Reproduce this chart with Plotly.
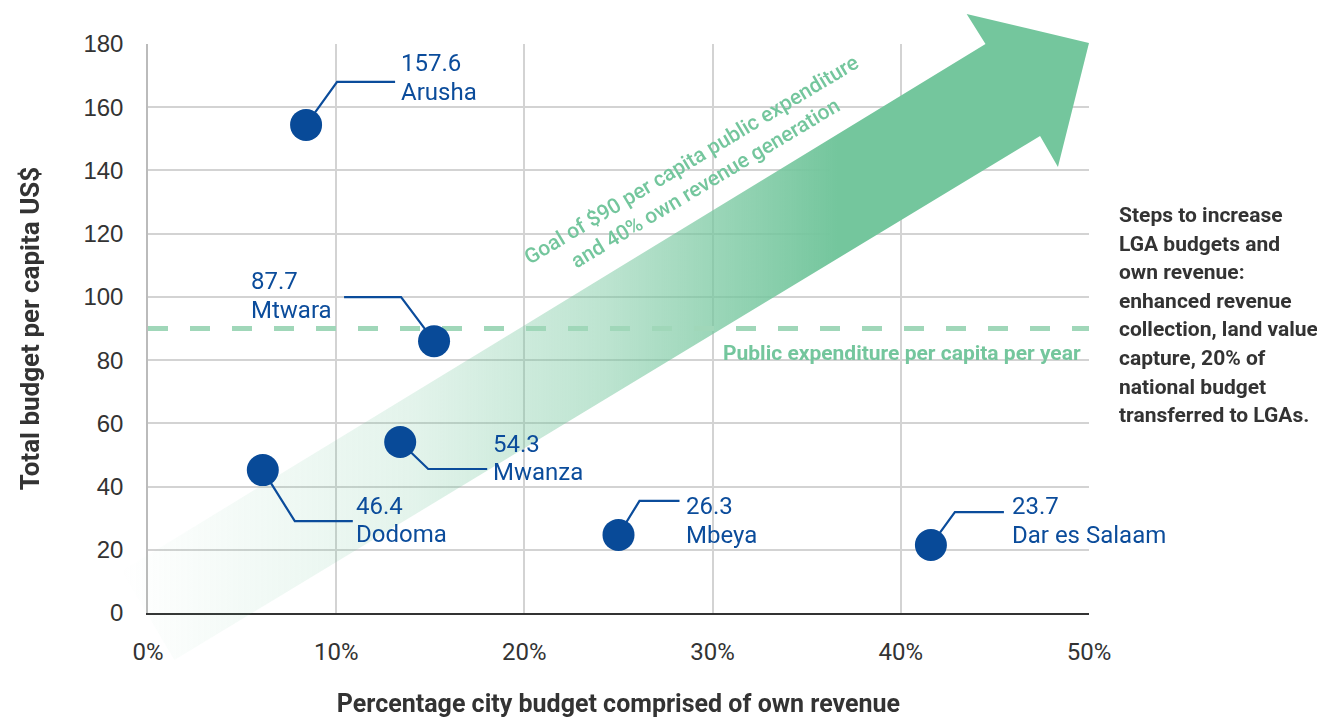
import plotly.graph_objects as go

# data
cities = ['Arusha', 'Mtwara', 'Mwanza', 'Dodoma', 'Mbeya', 'Dar es Salaam']
own_revenue_pct = [8.4, 15.2, 13.4, 6.1, 25.0, 41.6]
budget_per_capita = [154.4, 86.0, 54.1, 45.2, 24.7, 21.5]
budget_labels = ['157.6', '87.7', '54.3', '46.4', '26.3', '23.7']

x_ticks = [0, 10, 20, 30, 40, 50]
y_ticks = [0, 20, 40, 60, 80, 100, 120, 140, 160, 180]
target_budget = 90

steps_lines = ['Steps to increase', 'LGA budgets and', 'own revenue:', 'enhanced revenue',
               'collection, land value', 'capture, 20% of', 'national budget',
               'transferred to LGAs.']

# arrow outline (x in %, y in US$), goes a bit outside the plot
arrow_x = [-1.4, 44.5, 43.5, 50.0, 48.35, 47.4, 1.4, -1.4]
arrow_y = [13.3, 180.0, 189.5, 180.3, 141.1, 150.9, -14.9, 13.3]

# label placement in pixels: elbow dx, dy, line end dx, text dx, value dy, name dy
offsets = {
    'Arusha': (31, -43, 89, 93, -62, -33),
    'Mtwara': (-33, -44, -90, -185, -60, -31),
    'Mwanza': (28, 27, 87, 91, 2, 30),
    'Dodoma': (32, 51, 90, 91, 36, 64),
    'Mbeya': (21, -34, 61, 65, -29, 0),
    'Dar es Salaam': (24, -33, 73, 79, -39, -10),
}

W, H = 1325, 722
OFF = 8  # page body margin
left, right, top, bottom = 148 - OFF, 1089 - OFF, 44 - OFF, 613 - OFF
px_x = (right - left) / 50.0
px_y = (bottom - top) / 180.0

BLUE = '#0B4C9B'
GREEN = 'rgb(116,198,157)'
FONT = 'Roboto, Arial, sans-serif'

fig = go.Figure()

# invisible trace so the main axes get drawn
fig.add_trace(go.Scatter(x=[0, 50], y=[0, 180], mode='markers', opacity=0,
                         hoverinfo='skip', showlegend=False))

# arrow on a full-size hidden axis so it is not clipped
fig.add_trace(go.Scatter(
    x=arrow_x, y=arrow_y, xaxis='x2', yaxis='y2', mode='lines',
    line=dict(width=0), fill='toself', hoverinfo='skip', showlegend=False,
    fillgradient=dict(type='horizontal', colorscale=[
        [0.0, 'rgba(116,198,157,0)'],
        [0.3, 'rgba(116,198,157,0.2)'],
        [0.5, 'rgba(116,198,157,0.48)'],
        [0.65, 'rgba(116,198,157,0.8)'],
        [0.74, 'rgba(116,198,157,1)'],
        [1.0, 'rgba(116,198,157,1)'],
    ]),
))

# dashed target line
fig.add_trace(go.Scatter(
    x=[0, 50], y=[target_budget, target_budget], xaxis='x3', yaxis='y3',
    mode='lines', line=dict(color='rgb(160,215,185)', width=5, dash='20px,22px'),
    hoverinfo='skip', showlegend=False,
))

# connectors
for c, xv, yv in zip(cities, own_revenue_pct, budget_per_capita):
    ex, ey, endx, _, _, _ = offsets[c]
    fig.add_trace(go.Scatter(
        x=[xv, xv + ex / px_x, xv + endx / px_x],
        y=[yv, yv - ey / px_y, yv - ey / px_y],
        xaxis='x3', yaxis='y3', mode='lines',
        line=dict(color=BLUE, width=2.2), hoverinfo='skip', showlegend=False,
    ))

fig.add_trace(go.Scatter(
    x=own_revenue_pct, y=budget_per_capita, xaxis='x3', yaxis='y3',
    mode='markers', marker=dict(size=32, color='#084A98'),
    text=cities, hovertemplate='%{text}<br>%{x}%<br>%{y}<extra></extra>',
    showlegend=False,
))

annotations = []
for c, lab, xv, yv in zip(cities, budget_labels, own_revenue_pct, budget_per_capita):
    _, _, _, tx, vdy, ndy = offsets[c]
    for txt, dy in [(lab, vdy), (c, ndy)]:
        annotations.append(dict(
            x=xv, y=yv, xref='x3', yref='y3', text=txt, showarrow=False,
            xanchor='left', yanchor='middle', xshift=tx, yshift=-dy,
            font=dict(family=FONT, size=24, color=BLUE),
        ))

annotations.append(dict(
    x=50, y=target_budget, xref='x3', yref='y3', showarrow=False,
    text='Public expenditure per capita per year', xanchor='right', yanchor='middle',
    xshift=-6, yshift=-24, font=dict(family=FONT, size=21, color=GREEN, weight='bold'),
))

annotations.append(dict(
    x=(698 - OFF - left) / px_x, y=(bottom - (172 - OFF)) / px_y, xref='x3', yref='y3',
    showarrow=False,
    text='Goal of $90 per capita public expenditure<br>and 40% own revenue generation',
    textangle=-31, font=dict(family=FONT, size=21, color=GREEN, weight=500),
))

for i, line in enumerate(steps_lines):
    annotations.append(dict(
        x=(1117 - OFF) / W, y=1 - (215 - OFF + i * 28.6) / H, xref='paper', yref='paper',
        text=line, showarrow=False, xanchor='left', yanchor='middle',
        font=dict(family=FONT, size=21, color='#333333', weight='bold'),
    ))

dom_x = [left / W, right / W]
dom_y = [(H - bottom) / H, (H - top) / H]

fig.update_layout(
    width=W, height=H,
    margin=dict(l=0, r=0, t=0, b=0),
    plot_bgcolor='rgba(0,0,0,0)', paper_bgcolor='white',
    annotations=annotations,
    xaxis=dict(
        domain=dom_x, range=[0, 50], tickvals=x_ticks,
        ticktext=[f'{v}%' for v in x_ticks], showgrid=True,
        gridcolor='#D3D3D3', gridwidth=1.5, zeroline=False,
        showline=True, linecolor='#333333', linewidth=2,
        ticks='', ticklabelstandoff=16,
        tickfont=dict(family=FONT, size=24, color='#333333'),
        title=dict(text='Percentage city budget comprised of own revenue', standoff=30,
                   font=dict(family=FONT, size=25, color='#333333', weight='bold')),
        automargin=False, fixedrange=True,
    ),
    yaxis=dict(
        domain=dom_y, range=[0, 180], tickvals=y_ticks, showgrid=True,
        gridcolor='#D3D3D3', gridwidth=1.5, zeroline=False,
        showline=True, linecolor='#BBBBBB', linewidth=1.5,
        ticks='', ticklabelstandoff=18,
        tickfont=dict(family='Liberation Sans, Arial, sans-serif', size=24, color='#333333'),
        title=dict(text='Total budget per capita US$', standoff=36,
                   font=dict(family=FONT, size=26, color='#333333', weight='bold')),
        automargin=False, fixedrange=True,
    ),
    xaxis2=dict(domain=[0, 1], range=[-left / px_x, (W - left) / px_x],
                visible=False, fixedrange=True, anchor='y2'),
    yaxis2=dict(domain=[0, 1], range=[-(H - bottom) / px_y, bottom / px_y],
                visible=False, fixedrange=True, anchor='x2'),
    xaxis3=dict(domain=dom_x, range=[0, 50], visible=False, fixedrange=True, anchor='y3'),
    yaxis3=dict(domain=dom_y, range=[0, 180], visible=False, fixedrange=True, anchor='x3'),
)

fig.write_html('out.html')
